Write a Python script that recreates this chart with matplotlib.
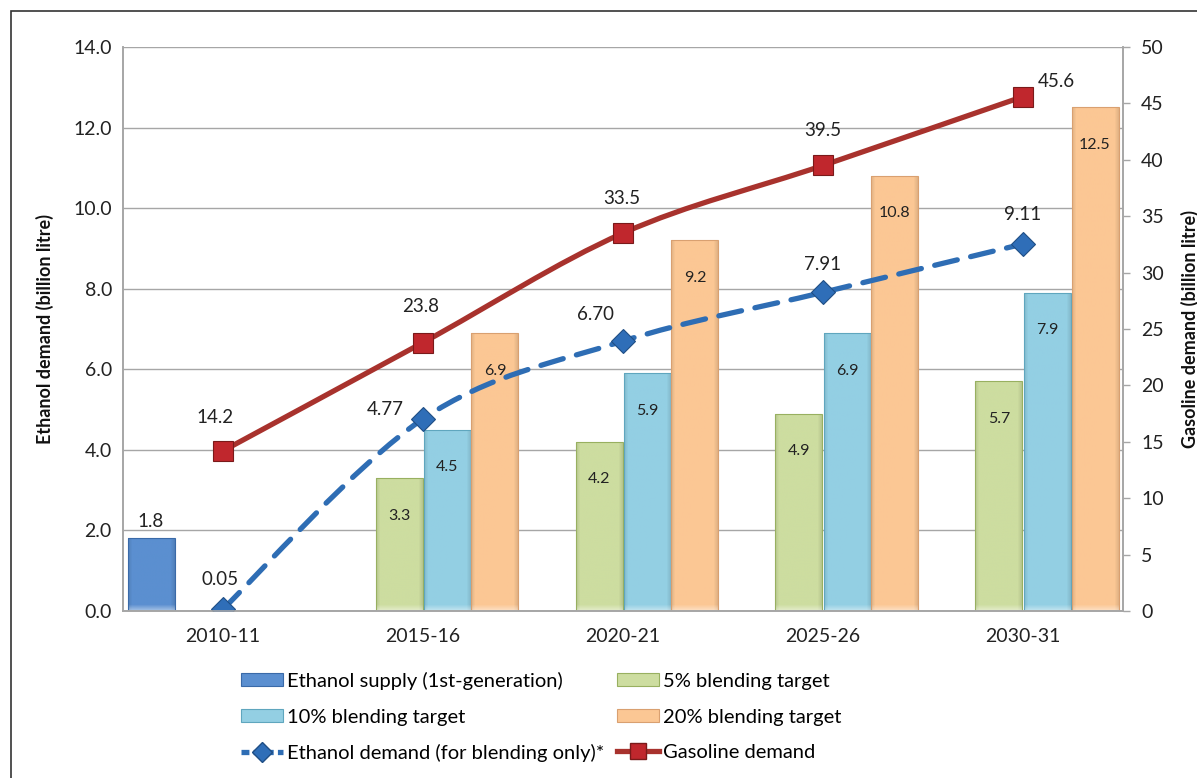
import numpy as np
import matplotlib
matplotlib.use("Agg")
import matplotlib.pyplot as plt
from matplotlib.path import Path
from matplotlib.patches import PathPatch, Rectangle, Patch
from matplotlib.lines import Line2D
from matplotlib.colors import to_rgb

plt.rcParams['font.family'] = ['Lato', 'DejaVu Sans']

# data
years = ["2010-11", "2015-16", "2020-21", "2025-26", "2030-31"]
supply_1g = [1.8, None, None, None, None]
blend_5 = [None, 3.3, 4.2, 4.9, 5.7]
blend_10 = [None, 4.5, 5.9, 6.9, 7.9]
blend_20 = [None, 6.9, 9.2, 10.8, 12.5]
ethanol_demand = [0.05, 4.77, 6.70, 7.91, 9.11]
ethanol_labels = ["0.05", "4.77", "6.70", "7.91", "9.11"]
gasoline_demand = [14.2, 23.8, 33.5, 39.5, 45.6]

# label offsets (points), layout only
eth_off = [(-2, 21), (-27, 7), (-20, 19), (0, 20), (0, 21)]
gas_off = [(-6, 24), (-2, 26), (-1, 25), (0, 25), (24, 11)]

W, H = 1197, 778
fig = plt.figure(figsize=(W / 100, H / 100), dpi=100)
ax = fig.add_axes([123 / W, 167 / H, 1000 / W, 564 / H])
ax2 = ax.twinx()

x = np.arange(len(years))
bw = 0.235
offs = [-0.36, -0.12, 0.12, 0.36]
series = [
    (supply_1g, "#5B8FD0", "#3A6AA8", "Ethanol supply (1st-generation)"),
    (blend_5, "#CDDDA0", "#98B060", "5% blending target"),
    (blend_10, "#93CFE3", "#5FA6BE", "10% blending target"),
    (blend_20, "#FBC794", "#D9A070", "20% blending target"),
]


def bevel_fill(a, bar, color):
    # soft Excel-like bevel shading clipped to the bar
    x0, y0 = bar.get_x(), bar.get_y()
    w, h = bar.get_width(), bar.get_height()
    nx = 48
    ny = max(int(h * 564 / 14), 4)
    base = np.array(to_rgb(color))
    img = np.tile(base, (ny, nx, 1))
    cols = np.arange(nx)
    edge = np.clip(1 - np.minimum(cols, nx - 1 - cols) / 4.0, 0, 1)
    img *= (1 - 0.10 * edge)[None, :, None]
    rows = np.arange(ny)
    top = np.clip(1 - rows / 6.0, 0, 1)
    img = img + (1 - img) * (0.45 * top)[:, None, None]
    im = a.imshow(img, extent=(x0, x0 + w, y0 + h, y0), aspect="auto",
                  interpolation="bilinear", zorder=2.0)
    im.set_clip_path(bar)


legend_patches = []
for k, (vals, fc, ec, lab) in enumerate(series):
    xs = [x[i] + offs[k] for i, v in enumerate(vals) if v is not None]
    hs = [v for v in vals if v is not None]
    b = ax.bar(xs, hs, width=bw, facecolor="none", edgecolor=ec, linewidth=0.8,
               label=lab, zorder=2.2)
    legend_patches.append(Patch(facecolor=fc, edgecolor=ec, linewidth=0.8))
    for p in b.patches:
        bevel_fill(ax, p, fc)
    for xi, h in zip(xs, hs):
        if k == 0:
            ax.annotate(f"{h:.1f}", (xi, h), xytext=(0, 6), textcoords="offset points",
                        ha="center", va="bottom", fontsize=13.5, color="#222222")
        else:
            ax.annotate(f"{h:.1f}", (xi, h), xytext=(0, -27), textcoords="offset points",
                        ha="center", va="center", fontsize=11.5, color="#222222", zorder=3)


def smooth_path(xv, yv):
    pts = np.column_stack([xv, yv]).astype(float)
    ext = np.vstack([pts[0], pts, pts[-1]])
    verts = [pts[0]]
    codes = [Path.MOVETO]
    for i in range(1, len(ext) - 2):
        p0, p1, p2, p3 = ext[i - 1], ext[i], ext[i + 1], ext[i + 2]
        verts += [p1 + (p2 - p0) / 6.0, p2 - (p3 - p1) / 6.0, p2]
        codes += [Path.CURVE4] * 3
    return Path(verts, codes)


blue_line = "#2E6DB4"
red_line = "#A8322D"

# ethanol demand (left axis)
ax.add_patch(PathPatch(smooth_path(x, ethanol_demand), fill=False, edgecolor=blue_line,
                       linewidth=3.8, linestyle=(0, (4.4, 2.6)), capstyle="round", zorder=4))
ax.plot(x, ethanol_demand, linestyle="none", marker="D", markersize=12,
        markerfacecolor="#2F6EB8", markeredgecolor="#1F4E85", markeredgewidth=0.8, zorder=5)
for xi, v, t, o in zip(x, ethanol_demand, ethanol_labels, eth_off):
    ax.annotate(t, (xi, v), xytext=o, textcoords="offset points", ha="center", va="center",
                fontsize=13.5, color="#222222", zorder=6)

# gasoline demand (right axis)
ax2.add_patch(PathPatch(smooth_path(x, gasoline_demand), fill=False, edgecolor=red_line,
                        linewidth=3.8, capstyle="round", zorder=4))
ax2.plot(x, gasoline_demand, linestyle="none", marker="s", markersize=14,
         markerfacecolor="#C0272D", markeredgecolor="#7A1A1A", markeredgewidth=0.8, zorder=5)
for xi, v, o in zip(x, gasoline_demand, gas_off):
    ax2.annotate(f"{v:.1f}", (xi, v), xytext=o, textcoords="offset points", ha="center",
                 va="center", fontsize=13.5, color="#222222", zorder=6)

# axes styling
ax.set_xlim(-0.5, len(years) - 0.5)
ax.set_ylim(0, 14)
ax.set_yticks(np.arange(0, 14.1, 2))
ax.set_yticklabels([f"{v:.1f}" for v in np.arange(0, 14.1, 2)])
ax.set_xticks(x)
ax.set_xticklabels(years)
ax2.set_ylim(0, 50)
ax2.set_yticks(np.arange(0, 51, 5))

ax.yaxis.grid(True, color="#A6A6A6", linewidth=1.0, zorder=0)
ax.set_axisbelow(True)
for a in (ax, ax2):
    for s in a.spines.values():
        s.set_color("#A6A6A6")
        s.set_linewidth(1.2)
    a.spines["top"].set_visible(False)
ax.tick_params(axis="both", length=0, labelsize=14, colors="#222222", pad=8)
ax.tick_params(axis="x", pad=12)
ax2.tick_params(axis="y", length=5, width=1.0, color="#A6A6A6", labelsize=14,
                labelcolor="#222222", pad=8)

ax.set_ylabel("Ethanol demand (billion litre)", fontsize=13, fontweight="bold",
              color="#111111", labelpad=14)
ax2.set_ylabel("Gasoline demand (billion litre)", fontsize=13, fontweight="bold",
               color="#111111", labelpad=12)

# legend (row-major order like the original)
eth_h = Line2D([], [], color=blue_line, linewidth=3.8, linestyle=(0, (1.5, 0.8)),
               marker="D", markersize=10, markerfacecolor="#2F6EB8", markeredgecolor="#1F4E85")
gas_h = Line2D([], [], color=red_line, linewidth=3.8, marker="s", markersize=11,
               markerfacecolor="#C0272D", markeredgecolor="#7A1A1A")
handles = [legend_patches[0], legend_patches[2], eth_h,
           legend_patches[1], legend_patches[3], gas_h]
labels = ["Ethanol supply (1st-generation)", "10% blending target",
          "Ethanol demand (for blending only)*", "5% blending target",
          "20% blending target", "Gasoline demand"]
fig.legend(handles, labels, ncol=2, loc="upper left", bbox_to_anchor=(241 / W, 1 - 672 / H),
           frameon=False, fontsize=14.5, handlelength=2.1, handleheight=0.62,
           handletextpad=0.2, columnspacing=0.6, labelspacing=0.92, borderpad=0,
           borderaxespad=0)

# chart border
fig.patches.append(Rectangle((11 / W, -0.05), 1.2, 1.05 - 11 / H, transform=fig.transFigure,
                             fill=False, edgecolor="#333333", linewidth=1.2))

fig.savefig("out.png", dpi=100)
